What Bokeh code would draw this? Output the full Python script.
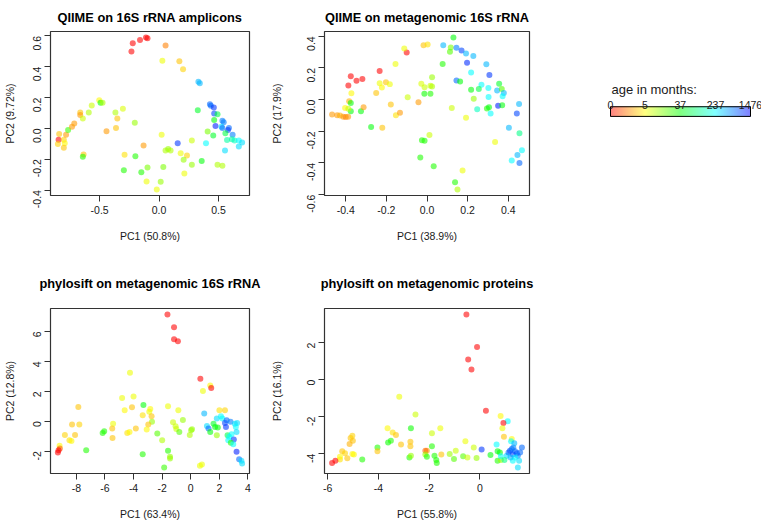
import math
import colorsys
from bokeh.plotting import figure
from bokeh.layouts import row, column
from bokeh.models import Range1d, FixedTicker, PrintfTickFormatter, ColumnDataSource
from bokeh.core.properties import value
from bokeh.embed import file_html
from bokeh.resources import INLINE

FONT = "Liberation Sans"

# ---------------- data ----------------
legend_ages = [0, 5, 37, 237, 1476]
legend_title = "age in months:"

# Panel 1: QIIME on 16S rRNA amplicons
p1_title = "QIIME on 16S rRNA amplicons"
p1_xlabel = "PC1 (50.8%)"
p1_ylabel = "PC2 (9.72%)"
p1_xticks = [-0.5, 0.0, 0.5]
p1_yticks = [-0.4, -0.2, 0.0, 0.2, 0.4, 0.6]
p1_x = [-0.232, -0.221, -0.160, -0.110, -0.097, 0.055, 0.028, 0.171, 0.202, 0.331,
        0.343, 0.326, 0.428, 0.436, 0.461, 0.464, 0.492, 0.464, 0.475, 0.533,
        0.544, 0.525, 0.533, 0.588, 0.580, 0.558, 0.619, 0.409, 0.456, 0.572,
        0.613, 0.635, 0.671, 0.699, 0.671, 0.555, 0.395, 0.276, 0.359, 0.276,
        0.492, 0.533, -0.840, -0.845, -0.851, -0.801, -0.793, -0.801, -0.782, -0.765,
        -0.732, -0.713, -0.663, -0.663, -0.641, -0.591, -0.566, -0.503, -0.492, -0.475,
        -0.367, -0.351, -0.304, -0.362, -0.442, -0.204, -0.635, -0.641, -0.290, -0.296,
        -0.199, -0.149, -0.097, -0.130, -0.105, 0.022, 0.157, 0.055, 0.077, 0.097,
        0.182, 0.235, 0.207, 0.213, 0.036, 0.014, -0.019]
p1_y = [0.499, 0.552, 0.574, 0.589, 0.585, 0.537, 0.439, 0.435, 0.383, 0.302,
        0.293, 0.118, 0.156, 0.146, 0.135, 0.096, 0.092, 0.054, 0.015, 0.049,
        0.039, 0.011, 0.002, 0.002, -0.011, -0.032, -0.041, -0.021, -0.047, -0.075,
        -0.071, -0.079, -0.079, -0.092, -0.118, -0.143, -0.096, -0.079, -0.212, -0.236,
        -0.236, -0.242, -0.036, -0.073, -0.101, -0.073, -0.096, -0.126, -0.041, -0.011,
        0.011, 0.032, 0.103, 0.086, 0.064, 0.103, 0.148, 0.182, 0.167, 0.167,
        0.103, 0.064, 0.128, 0.002, -0.019, 0.036, -0.169, -0.184, -0.171, -0.272,
        -0.180, -0.285, -0.253, -0.111, -0.345, -0.041, -0.096, -0.143, -0.133, -0.143,
        -0.161, -0.176, -0.203, -0.293, -0.251, -0.347, -0.396]
p1_age = [0, 0, 0, 0, 0, 1.5, 6, 3, 3.5, 400,
          400, 50, 700, 700, 1000, 900, 60, 40, 1200, 600,
          600, 300, 700, 700, 1000, 60, 600, 15, 50, 120,
          120, 150, 237, 300, 300, 300, 237, 8, 40, 12,
          10, 10, 3, 0, 3.5, 3.5, 5, 3, 2, 25,
          2, 2, 3, 2, 8, 10, 8, 5, 40, 10,
          10, 3, 7, 3, 2, 12, 3, 30, 4, 30,
          30, 30, 15, 2, 6, 6, 1000, 10, 12, 10,
          6, 3.5, 12, 6, 15, 12, 6]

# Panel 2: QIIME on metagenomic 16S rRNA
p2_title = "QIIME on metagenomic 16S rRNA"
p2_xlabel = "PC1 (38.9%)"
p2_ylabel = "PC2 (17.9%)"
p2_xticks = [-0.4, -0.2, 0.0, 0.2, 0.4]
p2_yticks = [-0.6, -0.4, -0.2, 0.0, 0.2, 0.4]
p2_x = [-0.467, -0.442, -0.428, -0.412, -0.400, -0.388, -0.403, -0.383, -0.375, -0.375,
        -0.387, -0.325, -0.312, -0.387, -0.375, -0.347, -0.318, -0.372, -0.233, -0.250,
        -0.233, -0.222, -0.202, -0.183, -0.178, -0.153, -0.133, -0.275, -0.220, -0.155,
        -0.100, -0.112, -0.095, -0.042, -0.028, -0.013, -0.012, 0.017, 0.025, 0.017,
        0.025, -0.017, 0.003, 0.080, 0.077, 0.130, 0.117, 0.113, 0.145, 0.170,
        0.192, 0.228, 0.197, 0.292, 0.217, 0.307, 0.145, 0.163, 0.355, 0.268,
        0.217, 0.255, 0.302, 0.345, 0.368, 0.378, 0.230, 0.303, 0.372, 0.350,
        0.370, 0.453, 0.247, 0.295, 0.305, 0.313, 0.122, 0.192, 0.442, 0.403,
        0.455, 0.335, 0.467, 0.445, 0.417, 0.455, 0.175, 0.138, 0.150, -0.025,
        -0.012, 0.012, -0.033, 0.033]
p2_y = [-0.094, -0.098, -0.100, -0.108, -0.110, -0.108, -0.052, -0.010, -0.021, -0.073,
        -0.058, -0.073, -0.048, 0.090, 0.148, 0.119, 0.131, 0.040, 0.181, 0.042,
        0.104, 0.077, 0.110, 0.098, -0.031, -0.098, -0.083, -0.173, -0.177, 0.225,
        0.298, 0.323, 0.015, -0.017, 0.100, 0.038, 0.079, 0.088, 0.083, 0.038,
        0.142, 0.344, 0.348, 0.344, 0.225, 0.392, 0.329, 0.302, 0.327, 0.310,
        0.292, 0.275, 0.233, 0.223, 0.171, 0.156, 0.121, 0.115, 0.100, 0.094,
        0.063, 0.067, 0.073, 0.058, 0.067, 0.042, 0.006, 0.017, 0.021, -0.038,
        -0.035, -0.027, -0.060, -0.056, -0.048, -0.088, -0.052, -0.115, -0.088, -0.177,
        -0.213, -0.267, -0.319, -0.350, -0.385, -0.400, -0.448, -0.521, -0.567, -0.256,
        -0.260, -0.223, -0.365, -0.420]
p2_age = [2, 2, 2.5, 2, 1.5, 2, 5, 2.5, 40, 40,
          8, 40, 2, 0, 0, 0, 0, 5, 0, 3,
          6, 5, 3, 6, 3, 4, 2, 40, 3, 6,
          0, 6, 8, 2, 7, 35, 8, 8, 10, 30,
          12, 3, 4, 400, 30, 40, 15, 20, 600, 900,
          400, 400, 1100, 400, 237, 1000, 700, 40, 50, 237,
          40, 60, 237, 400, 20, 400, 12, 237, 237, 1200,
          40, 400, 150, 30, 40, 237, 8, 6, 900, 400,
          100, 6, 237, 400, 237, 700, 6, 30, 10, 30,
          30, 8, 30, 30]

# Panel 3: phylosift on metagenomic 16S rRNA
p3_title = "phylosift on metagenomic 16S rRNA"
p3_xlabel = "PC1 (63.4%)"
p3_ylabel = "PC2 (12.8%)"
p3_xticks = [-8, -6, -4, -2, 0, 2, 4]
p3_yticks = [-2, 0, 2, 4, 6]
p3_x = [-1.63, -1.17, -1.17, -0.90, -4.25, -4.80, -4.00, -4.62, -4.11, -3.31,
        -3.36, -2.83, -2.90, -2.74, -2.71, -2.97, -3.08, -3.84, -4.44, -4.28,
        -5.43, -5.49, -5.47, -6.05, -6.16, -7.31, -7.86, -7.79, -8.30, -8.09,
        -8.80, -8.48, -8.34, -9.17, -9.15, -9.24, -9.29, -3.36, -2.34, -2.00,
        -1.59, -0.87, -1.24, -1.06, -1.01, -0.80, -0.55, 0.02, -0.07, -1.59,
        -1.45, -1.45, -1.86,
        0.67, 1.36, 1.43, 0.85, 0.94, 2.00, 2.39, 1.82, 2.11, 2.21,
        2.39, 2.51, 2.46, 2.78, 3.08, 3.24, 3.15, 3.20, 1.13, 1.24,
        1.36, 1.59, 1.70, 1.89, 1.82, 2.57, 2.69, 2.85, 3.01, 2.62,
        2.80, 2.97, 3.20, 3.38, 3.54, 3.59, 0.78, 0.64, 0.09]
p3_y = [7.12, 6.27, 5.48, 5.34, 3.24, 1.55, 1.66, 0.73, 0.93, 1.09,
        0.40, 0.82, 0.64, 0.33, -0.04, -0.22, -0.55, -0.49, -0.78, -0.71,
        -0.16, -0.49, -1.11, -0.67, -0.78, -1.93, 0.95, -0.22, -0.22, -0.91,
        -0.91, -1.26, -1.31, -1.64, -1.82, -1.93, -2.08, -2.20, -0.82, -1.26,
        1.00, 0.73, -0.07, -0.33, -0.51, -0.71, 0.09, -0.60, -0.91, -1.97,
        -2.37, -2.48, -3.08,
        2.84, 2.39, 2.22, 2.02, 0.51, 0.73, 0.73, 0.18, 0.33, 0.18,
        -0.11, 0.07, -0.38, -0.04, -0.16, -0.11, -0.38, -0.71, -0.31, -0.49,
        -0.71, -0.16, -0.38, -0.42, -0.93, -0.93, -1.04, -0.86, -1.22, -1.26,
        -1.44, -1.53, -2.04, -2.53, -2.64, -2.82, -2.88, -2.97, -0.53]
p3_age = [0, 0, 0, 0, 6, 6, 6, 5, 3, 40,
          4, 5, 6, 3, 12, 3, 5, 3, 4, 5,
          6, 3, 3, 30, 30, 30, 3, 3.5, 3, 3,
          3.5, 4, 5, 5, 1, 0, 0, 30, 20, 10,
          6, 6, 8, 8, 8, 20, 12, 12, 10, 30,
          12, 12, 25,
          0, 5, 0, 6, 400, 4, 3.5, 300, 237, 237,
          900, 700, 1000, 600, 300, 300, 237, 300, 300, 700,
          40, 50, 40, 40, 12, 60, 237, 237, 1000, 237,
          30, 237, 1200, 700, 300, 300, 6, 6, 12]

# Panel 4: phylosift on metagenomic proteins
p4_title = "phylosift on metagenomic proteins"
p4_xlabel = "PC1 (55.8%)"
p4_ylabel = "PC2 (16.1%)"
p4_xticks = [-6, -4, -2, 0]
p4_yticks = [-4, -2, 0, 2]
p4_x = [-0.53, -0.11, -0.46, -0.33, 0.24,
        -3.18, -2.54, -3.64, -3.44, -3.31,
        -2.72, -3.62, -3.51, -3.11, -2.74,
        -2.74, -2.78, -2.72, -1.89, -1.56,
        -1.89, -2.09, -2.15, -2.15, -2.09,
        -1.52, -1.79, -1.72, -1.70, -1.19,
        -1.02, -0.95, -0.66, -0.57, -0.49,
        -0.24, -0.13, 0.07, 0.42,
        -5.10, -5.03, -5.01, -5.14, -5.03,
        -4.97, -5.43, -5.32, -5.23, -5.52,
        -5.70, -5.83, -5.52, -4.64, -4.04, -4.04,
        0.82, 1.10, 0.93, 0.89, 0.95,
        1.26, 1.23, 0.66, 0.70, 0.79,
        0.70, 0.83, 0.83, 1.06, 0.97,
        1.13, 1.19, 1.26, 1.32, 1.39,
        1.46, 1.50, 1.30, 1.39, 1.55,
        1.30, 1.50, 1.66, 1.59, 1.21, 1.36]
p4_y = [3.51, 1.76, 1.08, 0.54, -1.68,
        -0.92, -1.89, -2.63, -2.85, -2.99,
        -2.63, -3.39, -3.30, -3.51, -3.35,
        -3.60, -4.20, -4.11, -2.90, -2.63,
        -3.60, -3.84, -3.84, -4.05, -4.16,
        -4.05, -4.11, -4.34, -4.50, -4.02,
        -4.29, -3.84, -4.14, -3.33, -4.20,
        -3.66, -4.23, -3.78, -4.07,
        -3.15, -3.03, -3.30, -3.48, -4.02,
        -4.05, -3.87, -3.98, -4.25, -4.32,
        -4.38, -4.50, -4.16, -4.32, -3.66, -3.87,
        -1.96, -2.25, -2.34, -2.63, -3.08,
        -3.21, -3.33, -3.51, -3.87, -3.93,
        -4.38, -4.34, -4.14, -4.11, -4.34,
        -3.93, -3.84, -3.75, -3.66, -3.87,
        -3.98, -4.11, -4.05, -4.20, -4.38,
        -4.38, -4.74, -3.66, -3.93, -4.20, -3.44]
p4_age = [0, 0, 0, 0, 0,
          6, 8, 5, 4, 3,
          35, 35, 30, 3, 3,
          3, 30, 12, 8, 6,
          30, 2, 1, 12, 30,
          3, 30, 30, 30, 12,
          20, 8, 20, 6, 8,
          8, 12, 1000, 40,
          3, 3.5, 3, 2.5, 5,
          5, 3, 3.5, 3, 4,
          0, 0, 5, 30, 30, 3,
          5, 237, 0, 6, 3,
          5, 237, 237, 40, 40,
          30, 12, 237, 300, 100,
          700, 900, 700, 600, 700,
          800, 600, 900, 237, 300,
          237, 300, 700, 700, 400, 400]

for a, b, c in [(p1_x, p1_y, p1_age), (p2_x, p2_y, p2_age), (p3_x, p3_y, p3_age), (p4_x, p4_y, p4_age)]:
    assert len(a) == len(b) == len(c), (len(a), len(b), len(c))

# ---------------- colour mapping (rainbow on log(1+age)) ----------------
LMAX = math.log1p(legend_ages[-1])


def age_rgb(a):
    h = (2.0 / 3.0) * math.log1p(a) / LMAX
    return colorsys.hsv_to_rgb(h, 1.0, 1.0)


def to_hex(rgb):
    return "#%02x%02x%02x" % tuple(int(round(max(0, min(1, c)) * 255)) for c in rgb)


def age_color(a):
    return to_hex(age_rgb(a))


def age_color_light(a, alpha=0.5):
    r, g, b = age_rgb(a)
    return to_hex((alpha * r + 1 - alpha, alpha * g + 1 - alpha, alpha * b + 1 - alpha))


def pad_range(vals, frac=0.04):
    lo, hi = min(vals), max(vals)
    d = (hi - lo) * frac
    return lo - d, hi + d


INK = "#1a1a1a"


def make_panel(title, xs, ys, ages, xticks, yticks, fmt, xlab, ylab,
               width, height, bl, br, bt, bb, title_standoff, ylab_standoff, xlab_standoff):
    x0, x1 = pad_range(xs)
    y0, y1 = pad_range(ys)
    p = figure(width=width, height=height, x_range=Range1d(x0, x1), y_range=Range1d(y0, y1),
               output_backend="svg", toolbar_location=None,
               min_border_left=bl, min_border_right=br, min_border_top=bt, min_border_bottom=bb,
               background_fill_color="white", border_fill_color="white")
    p.title.text = title
    p.title.align = "center"
    p.title.text_font = FONT
    p.title.text_font_size = "12.8px"
    p.title.text_font_style = "bold"
    p.title.text_color = "black"
    p.title.standoff = title_standoff
    p.grid.visible = False
    p.outline_line_color = "#333333"
    p.outline_line_width = 1.2

    p.xaxis.ticker = FixedTicker(ticks=xticks)
    p.yaxis.ticker = FixedTicker(ticks=yticks)
    p.xaxis.formatter = PrintfTickFormatter(format=fmt)
    p.yaxis.formatter = PrintfTickFormatter(format=fmt)
    p.xaxis.axis_label = xlab
    p.yaxis.axis_label = ylab
    for ax in (p.xaxis[0], p.yaxis[0]):
        ax.axis_line_color = None
        ax.major_tick_in = 0
        ax.major_tick_out = 6
        ax.major_tick_line_color = "#333333"
        ax.major_tick_line_width = 1
        ax.minor_tick_line_color = None
        ax.major_label_text_font = FONT
        ax.major_label_text_font_size = "10.5px"
        ax.major_label_text_color = INK
        ax.axis_label_text_font = FONT
        ax.axis_label_text_font_size = "10.5px"
        ax.axis_label_text_font_style = "normal"
        ax.axis_label_text_color = INK
    p.xaxis.major_label_standoff = 4
    p.yaxis.major_label_standoff = 7
    p.yaxis.major_label_orientation = math.pi / 2
    p.yaxis.axis_label_standoff = ylab_standoff
    p.xaxis.axis_label_standoff = xlab_standoff

    src = ColumnDataSource(dict(x=xs, y=ys, c=[age_color(a) for a in ages]))
    p.scatter("x", "y", source=src, size=6, fill_color="c", fill_alpha=0.58, line_color=None)
    return p


TOP_H, BOT_H = 255, 267
LEFT_W, MID_W, LEG_W = 262, 298, 201

p1 = make_panel(p1_title, p1_x, p1_y, p1_age, p1_xticks, p1_yticks, "%.1f", p1_xlabel, p1_ylabel,
                LEFT_W, TOP_H, 47, 13, 30, 60, 14, 11, 13)
p2 = make_panel(p2_title, p2_x, p2_y, p2_age, p2_xticks, p2_yticks, "%.1f", p2_xlabel, p2_ylabel,
                MID_W, TOP_H, 62, 31, 30, 60, 14, 18, 13)
p3 = make_panel(p3_title, p3_x, p3_y, p3_age, p3_xticks, p3_yticks, "%d", p3_xlabel, p3_ylabel,
                LEFT_W, BOT_H, 47, 13, 53, 49, 36, 11, 13)
p4 = make_panel(p4_title, p4_x, p4_y, p4_age, p4_xticks, p4_yticks, "%d", p4_xlabel, p4_ylabel,
                MID_W, BOT_H, 62, 31, 53, 49, 36, 18, 13)

# ---------------- colour key ----------------
# the key figure's data y runs from 0 (bottom) to TOP_H (top); positions measured from the top
bar_left_px, bar_w_px, bar_top_px, bar_h_px = 50, 140, 117, 15
ppu = bar_w_px / LMAX
leg = figure(width=LEG_W, height=TOP_H,
             x_range=Range1d(-bar_left_px / ppu, (LEG_W - bar_left_px) / ppu),
             y_range=Range1d(0, TOP_H),
             x_axis_location=None, y_axis_location=None,
             min_border_left=0, min_border_right=0, min_border_top=0, min_border_bottom=0,
             output_backend="svg", toolbar_location=None,
             background_fill_color="white", border_fill_color="white")
leg.outline_line_color = None
leg.grid.visible = False


def from_top(px):
    return TOP_H - px


N = 140
lefts = [LMAX * i / N for i in range(N)]
rights = [LMAX * (i + 1) / N for i in range(N)]
cols = [age_color_light(math.expm1(LMAX * (i + 0.5) / N)) for i in range(N)]
leg.quad(left=lefts, right=rights, top=[from_top(bar_top_px)] * N,
         bottom=[from_top(bar_top_px + bar_h_px)] * N,
         fill_color=cols, line_color=cols, line_width=1)
leg.quad(left=[0], right=[LMAX], top=[from_top(bar_top_px)], bottom=[from_top(bar_top_px + bar_h_px)],
         fill_color=None, line_color="black", line_width=1)
leg.text(x=[math.log1p(a) for a in legend_ages], y=[from_top(bar_top_px - 2)] * len(legend_ages),
         text=[str(a) for a in legend_ages], text_align="center", text_baseline="alphabetic",
         text_font=value(FONT), text_font_size="10.5px", text_color=INK)
leg.text(x=[1 / ppu], y=[from_top(90)], text=[legend_title], text_align="left",
         text_baseline="alphabetic",
         text_font=value(FONT), text_font_size="13px", text_color=INK)

layout = column(row(p1, p2, leg), row(p3, p4))

open("out.html", "w").write(file_html(layout, INLINE))
